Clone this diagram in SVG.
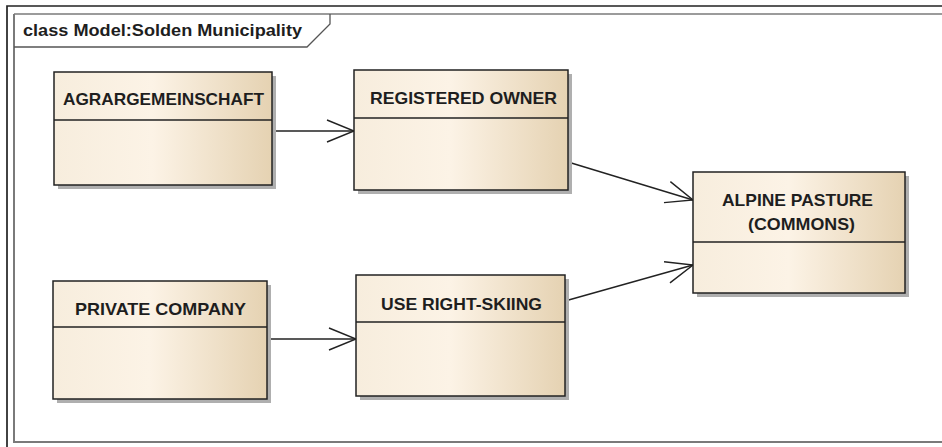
<svg xmlns="http://www.w3.org/2000/svg" width="942" height="447" viewBox="0 0 942 447">
  <defs>
    <linearGradient id="classFill" x1="0" y1="0" x2="1" y2="0">
      <stop offset="0" stop-color="#F7EDDD"/>
      <stop offset="0.45" stop-color="#FCF3E6"/>
      <stop offset="1" stop-color="#E5D2B2"/>
    </linearGradient>
    <marker id="openArrow" markerUnits="userSpaceOnUse" viewBox="-30 -13 32 26" refX="0" refY="0" markerWidth="32" markerHeight="26" orient="auto">
      <path d="M-27,-11 L0,0 L-27,11" fill="none" stroke="#222" stroke-width="1.4"/>
    </marker>
  </defs>
  <style>
    .shadow { fill: #AFAFAF; }
    .box { fill: url(#classFill); stroke: #222; stroke-width: 1.5; }
    .divider { stroke: #222; stroke-width: 1.5; }
    .name { font-family: "Liberation Sans", Arial, sans-serif; font-weight: bold; font-size: 16.5px; fill: #1E1E1E; }
    .title { font-family: "Liberation Sans", Arial, sans-serif; font-weight: bold; font-size: 16px; fill: #1E1E1E; }
    .assoc { stroke: #222; stroke-width: 1.4; fill: none; marker-end: url(#openArrow); }
  </style>

  <rect width="942" height="447" fill="#FFFFFF"/>

  <!-- page border -->
  <path d="M7,447 V6 H942" fill="none" stroke="#222" stroke-width="1.7"/>

  <!-- diagram frame and title tab -->
  <g id="frame">
    <path d="M14,14 V442 H942" fill="none" stroke="#7A7A7A" stroke-width="2"/>
    <path d="M14,14 H942" fill="none" stroke="#7A7A7A" stroke-width="1.5"/>
    <path d="M14,47 H307 L330,24 V14" fill="none" stroke="#555" stroke-width="1.3"/>
    <text class="title" x="23" y="36" textLength="279" lengthAdjust="spacingAndGlyphs">class Model:Solden Municipality</text>
  </g>

  <!-- associations -->
  <g id="connectors">
    <line class="assoc" x1="272" y1="131" x2="354" y2="131"/>
    <line class="assoc" x1="267" y1="339" x2="356" y2="339"/>
    <line class="assoc" x1="568" y1="162" x2="693" y2="200"/>
    <line class="assoc" x1="565" y1="301" x2="693" y2="265"/>
  </g>

  <g id="agrargemeinschaft">
    <rect class="shadow" x="58" y="76" width="218" height="113"/>
    <rect class="box" x="54" y="72" width="218" height="113"/>
    <line class="divider" x1="54" y1="120" x2="272" y2="120"/>
    <text class="name" x="63" y="105" textLength="201" lengthAdjust="spacingAndGlyphs">AGRARGEMEINSCHAFT</text>
  </g>

  <g id="registered-owner">
    <rect class="shadow" x="358" y="74" width="214" height="120"/>
    <rect class="box" x="354" y="70" width="214" height="120"/>
    <line class="divider" x1="354" y1="118" x2="568" y2="118"/>
    <text class="name" x="370" y="104" textLength="187" lengthAdjust="spacingAndGlyphs">REGISTERED OWNER</text>
  </g>

  <g id="alpine-pasture">
    <rect class="shadow" x="697" y="176" width="212" height="121"/>
    <rect class="box" x="693" y="172" width="212" height="121"/>
    <line class="divider" x1="693" y1="242" x2="905" y2="242"/>
    <text class="name" x="722" y="206" textLength="151" lengthAdjust="spacingAndGlyphs">ALPINE PASTURE</text>
    <text class="name" x="748" y="230" textLength="107" lengthAdjust="spacingAndGlyphs">(COMMONS)</text>
  </g>

  <g id="private-company">
    <rect class="shadow" x="57" y="285" width="214" height="118"/>
    <rect class="box" x="53" y="281" width="214" height="118"/>
    <line class="divider" x1="53" y1="327" x2="267" y2="327"/>
    <text class="name" x="75" y="315" textLength="171" lengthAdjust="spacingAndGlyphs">PRIVATE COMPANY</text>
  </g>

  <g id="use-right-skiing">
    <rect class="shadow" x="360" y="279" width="209" height="121"/>
    <rect class="box" x="356" y="275" width="209" height="121"/>
    <line class="divider" x1="356" y1="322" x2="565" y2="322"/>
    <text class="name" x="381" y="310" textLength="161" lengthAdjust="spacingAndGlyphs">USE RIGHT-SKIING</text>
  </g>
</svg>
